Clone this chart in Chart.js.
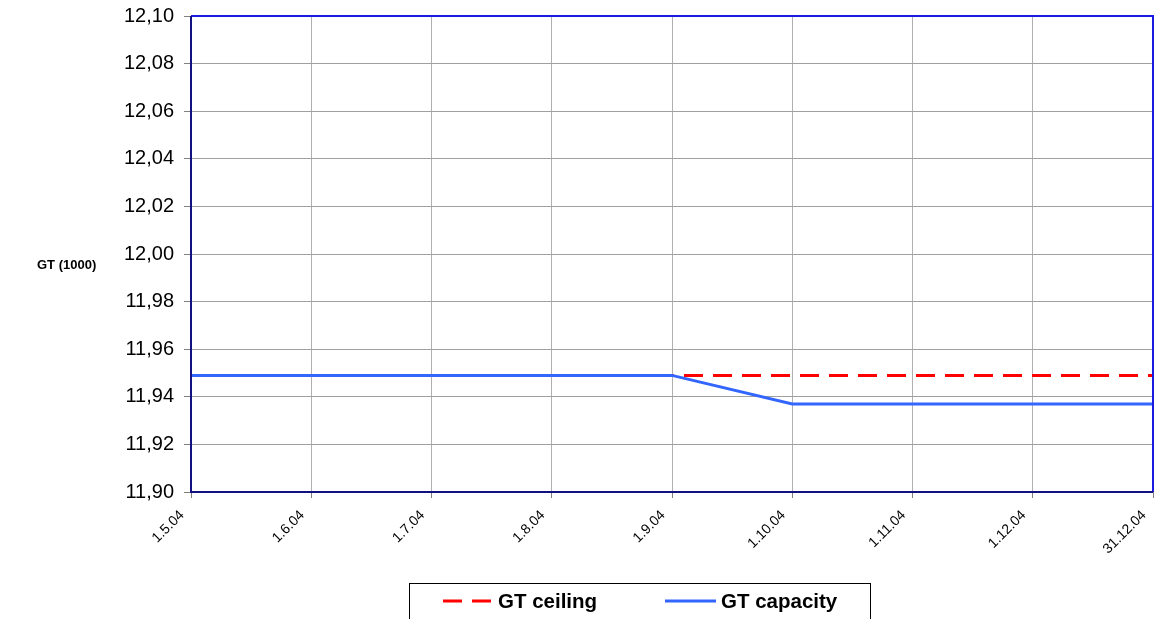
<!DOCTYPE html>
<html>
<head>
<meta charset="utf-8">
<script src="https://cdn.jsdelivr.net/npm/chart.js@4.4.0/dist/chart.umd.min.js"></script>
<style>
html,body{margin:0;padding:0;background:#fff;}
#wrap{position:relative;width:1154px;height:619px;}
</style>
</head>
<body>
<div id="wrap"><canvas id="c" width="1154" height="619"></canvas></div>
<script>
const categories = ['1.5.04','1.6.04','1.7.04','1.8.04','1.9.04','1.10.04','1.11.04','1.12.04','31.12.04'];
const gtCeiling  = [11.949,11.949,11.949,11.949,11.949,11.949,11.949,11.949,11.949];
const gtCapacity = [11.949,11.949,11.949,11.949,11.949,11.937,11.937,11.937,11.937];
const yMin = 11.90, yMax = 12.10, yStep = 0.02;
const yTitle = 'GT (1000)';

const FONT = '"Liberation Sans", Arial, sans-serif';

const framePlugin = {
  id: 'frame',
  afterDatasetsDraw(chart) {
    const {ctx, chartArea: a} = chart;
    ctx.save();
    ctx.lineWidth = 2;
    ctx.strokeStyle = '#1a1ae0';
    ctx.beginPath();
    ctx.moveTo(a.left, a.top); ctx.lineTo(a.right, a.top); ctx.lineTo(a.right, a.bottom);
    ctx.stroke();
    ctx.strokeStyle = '#101080';
    ctx.beginPath();
    ctx.moveTo(a.left, a.top); ctx.lineTo(a.left, a.bottom); ctx.lineTo(a.right, a.bottom);
    ctx.stroke();
    // y title, horizontal
    ctx.fillStyle = '#000';
    ctx.font = 'bold 13px ' + FONT;
    ctx.textAlign = 'left';
    ctx.textBaseline = 'middle';
    ctx.fillText(yTitle, 37, 265);
    // legend
    ctx.lineWidth = 1;
    ctx.strokeStyle = '#000';
    ctx.strokeRect(409.5, 583.5, 461, 40);
    const ds = chart.data.datasets;
    const items = [{x0:443, x1:492, tx:498}, {x0:665, x1:716, tx:721}];
    ds.forEach((d, i) => {
      const it = items[i];
      ctx.save();
      ctx.strokeStyle = d.borderColor;
      ctx.lineWidth = 3;
      ctx.setLineDash(d.borderDash && d.borderDash.length ? [19, 10] : []);
      ctx.beginPath();
      ctx.moveTo(it.x0, 601); ctx.lineTo(it.x1, 601);
      ctx.stroke();
      ctx.restore();
      ctx.fillStyle = '#000';
      ctx.font = 'bold 20.5px ' + FONT;
      ctx.textBaseline = 'middle';
      ctx.fillText(d.label, it.tx, 602);
    });
    ctx.restore();
  }
};

new Chart(document.getElementById('c'), {
  type: 'line',
  data: {
    labels: categories,
    datasets: [
      { label: 'GT ceiling', data: gtCeiling, borderColor: '#ff0000', borderWidth: 3,
        borderDash: [19, 10], pointRadius: 0, tension: 0, fill: false, order: 2 },
      { label: 'GT capacity', data: gtCapacity, borderColor: '#3366ff', borderWidth: 3,
        pointRadius: 0, tension: 0, fill: false, order: 1 }
    ]
  },
  options: {
    responsive: false,
    animation: false,
    devicePixelRatio: 1,
    layout: { padding: { left: 0, right: 1, top: 16, bottom: 0 } },
    plugins: { legend: { display: false }, tooltip: { enabled: false } },
    scales: {
      x: {
        type: 'category',
        offset: false,
        grid: { color: '#b0b0b0', lineWidth: 1, drawTicks: true, tickLength: 6, tickColor: '#808080' },
        border: { display: false },
        ticks: {
          autoSkip: false, maxRotation: 45, minRotation: 45, padding: 9, labelOffset: -9,
          color: '#000', font: { family: FONT, size: 14 }
        },
        afterFit(s) { s.height = 127; s.paddingLeft = 0; s.paddingRight = 0; }
      },
      y: {
        min: yMin, max: yMax,
        grid: { color: '#a0a0a0', lineWidth: 1, tickLength: 7, tickColor: '#808080' },
        border: { display: false },
        ticks: {
          stepSize: yStep, padding: 10, color: '#000', font: { family: FONT, size: 20 },
          callback: v => Number(v).toFixed(2).replace('.', ',')
        },
        afterFit(s) { s.width = 191; s.paddingTop = 0; s.paddingBottom = 0; }
      }
    }
  },
  plugins: [framePlugin]
});
</script>
</body>
</html>
